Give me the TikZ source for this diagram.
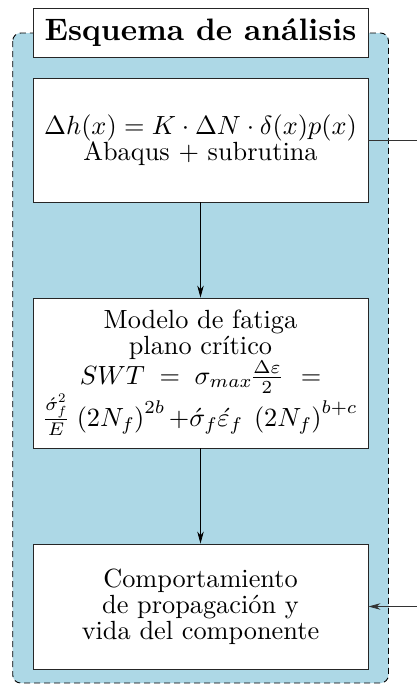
\documentclass[tikz,border=0pt]{standalone}
\usepackage[no-math]{fontspec}
\setmainfont{lmroman10-regular.otf}[BoldFont=lmroman10-bold.otf, ItalicFont=lmroman10-italic.otf]
\DeclareFontShape{OML}{cmm}{m}{it}{<-12> cmmi5 <12-21> cmmi7 <21-> cmmi10}{}
\DeclareFontShape{OMS}{cmsy}{m}{n}{<-12> cmsy5 <12-21> cmsy7 <21-> cmsy10}{}
\DeclareFontShape{OMX}{cmex}{m}{n}{<-> cmex10}{}
\DeclareFontShape{OT1}{cmr}{m}{n}{<-12> cmr5 <12-21> cmr7 <21-> cmr10}{}
\usetikzlibrary{arrows.meta}
\definecolor{panelblue}{RGB}{173,216,230}
\tikzset{
  panel/.style={draw=black, dashed, dash pattern=on 6pt off 4pt, line width=0.9pt, fill=panelblue, rounded corners=8pt},
  titlebox/.style={draw=black!85, line width=0.9pt, fill=white, minimum width=335pt, minimum height=49pt, inner sep=0pt, align=center, font=\fontsize{31}{31}\selectfont\bfseries},
  stagebox/.style={draw=black!85, line width=0.9pt, fill=white, minimum width=335pt, inner sep=0pt, align=center, font=\fontsize{26.3}{26}\selectfont},
  flow/.style={line width=0.8pt, -{Stealth[length=12pt,width=6.5pt]}},
  link/.style={line width=0.8pt, black!80}
}
\begin{document}
\begin{tikzpicture}[x=1pt,y=1pt]
\useasboundingbox (0,0) rectangle (417,-686);
\path[panel] (12.7,-33) rectangle (388.5,-683);
\node[titlebox] (title) at (200.5,-32.5) {Esquema de análisis};
\node[stagebox, minimum height=124pt] (b1) at (200.5,-140)
  {$\Delta h(x) = K\cdot\Delta N\cdot\delta(x)p(x)$\\ Abaqus + subrutina};
\node[stagebox, minimum height=150pt] (b2) at (200.5,-373)
  {Modelo de fatiga\\ plano crítico\\
   $SWT\;=\;\sigma_{max}\frac{\Delta\varepsilon}{2}\;\,=$\\
   $\frac{\acute{\sigma}_f^2}{E}\,\left(2N_f\right)^{2b}{+}\acute{\sigma}_f\acute{\varepsilon}_f\;\left(2N_f\right)^{b+c}$};
\node[stagebox, minimum height=125pt] (b3) at (200.5,-606.5)
  {Comportamiento\\ de propagación y\\ vida del componente};
\coordinate (out1) at (417,-140);
\coordinate (in3) at (417,-606.5);
\draw[flow] (b1.south) -- (b2.north);
\draw[flow] (b2.south) -- (b3.north);
\draw[link] (b1.east) -- (out1);
\draw[flow, black!80] (in3) -- (b3.east);
\end{tikzpicture}
\end{document}
